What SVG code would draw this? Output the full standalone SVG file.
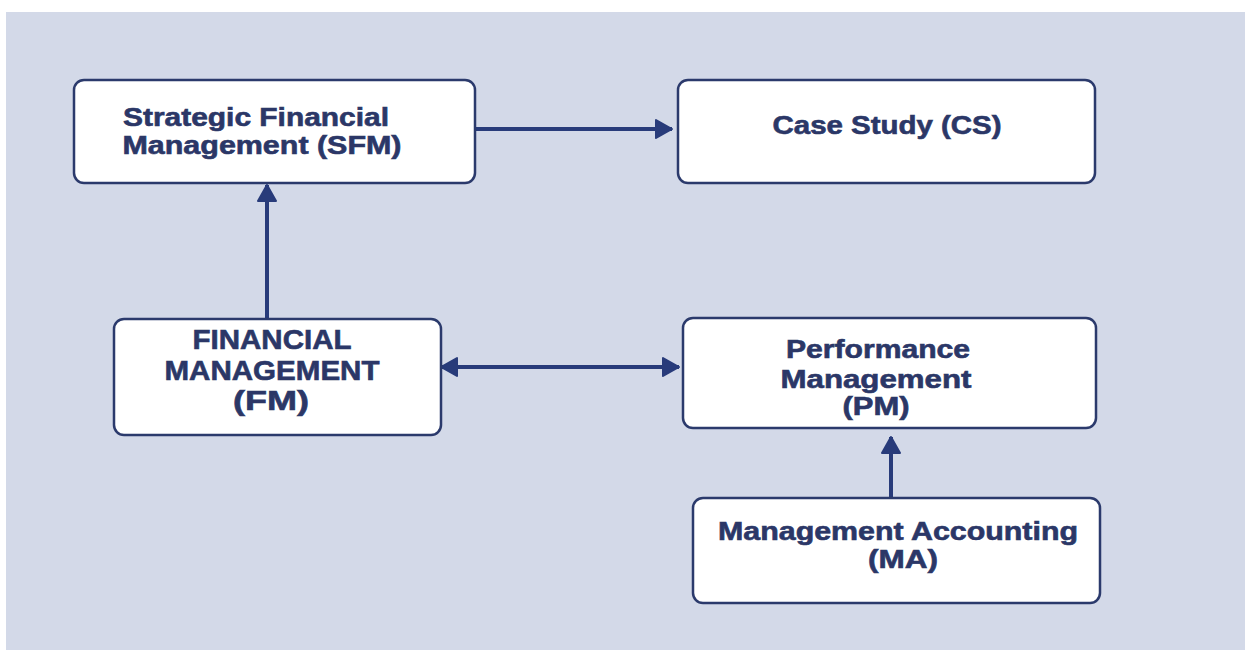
<svg xmlns="http://www.w3.org/2000/svg" width="1245" height="650" viewBox="0 0 1245 650">
  <style>
    .box { fill: #ffffff; stroke: #2b3a6c; stroke-width: 2.5; }
    .lbl { font-family: "Liberation Sans", Arial, sans-serif; font-weight: 700; fill: #2b3767; stroke: #2b3767; stroke-width: 0.6; text-anchor: middle; }
    .mc { font-size: 25px; }
    .uc { font-size: 27px; }
    .conn { stroke: #283b7a; stroke-width: 4; fill: none; }
  </style>
  <defs>
    <marker id="ah" viewBox="0 0 19 22" refX="18" refY="11" markerWidth="19" markerHeight="22" markerUnits="userSpaceOnUse" orient="auto-start-reverse">
      <path d="M2,2 L18,11 L2,20 Z" fill="#283b7a" stroke="#283b7a" stroke-width="2" stroke-linejoin="round"/>
    </marker>
  </defs>
  <rect x="6" y="12" width="1239" height="638" fill="#d3d9e8"/>

  <g id="connectors">
    <line class="conn" x1="476" y1="129" x2="672" y2="129" marker-end="url(#ah)"/>
    <line class="conn" x1="267" y1="319" x2="267" y2="185" marker-end="url(#ah)"/>
    <line class="conn" x1="441" y1="367" x2="679" y2="367" marker-start="url(#ah)" marker-end="url(#ah)"/>
    <line class="conn" x1="891" y1="497" x2="891" y2="437" marker-end="url(#ah)"/>
  </g>

  <g id="node-sfm">
    <rect class="box" x="74" y="80" width="401" height="103" rx="10"/>
    <text class="lbl mc" x="256" y="126" textLength="266" lengthAdjust="spacingAndGlyphs">Strategic Financial</text>
    <text class="lbl mc" x="262" y="154" textLength="279" lengthAdjust="spacingAndGlyphs">Management (SFM)</text>
  </g>
  <g id="node-cs">
    <rect class="box" x="678" y="80" width="417" height="103" rx="10"/>
    <text class="lbl mc" x="887" y="134" textLength="229" lengthAdjust="spacingAndGlyphs">Case Study (CS)</text>
  </g>
  <g id="node-fm">
    <rect class="box" x="114" y="319" width="327" height="116" rx="10"/>
    <text class="lbl uc" x="272" y="349" textLength="159" lengthAdjust="spacingAndGlyphs">FINANCIAL</text>
    <text class="lbl uc" x="272" y="380" textLength="215" lengthAdjust="spacingAndGlyphs">MANAGEMENT</text>
    <text class="lbl uc" x="271" y="410" textLength="76" lengthAdjust="spacingAndGlyphs">(FM)</text>
  </g>
  <g id="node-pm">
    <rect class="box" x="683" y="318" width="413" height="110" rx="10"/>
    <text class="lbl mc" x="878" y="358" textLength="184" lengthAdjust="spacingAndGlyphs">Performance</text>
    <text class="lbl mc" x="876" y="388" textLength="191" lengthAdjust="spacingAndGlyphs">Management</text>
    <text class="lbl mc" x="876" y="415" textLength="67" lengthAdjust="spacingAndGlyphs">(PM)</text>
  </g>
  <g id="node-ma">
    <rect class="box" x="693" y="498" width="407" height="105" rx="10"/>
    <text class="lbl mc" x="898" y="540" textLength="360" lengthAdjust="spacingAndGlyphs">Management Accounting</text>
    <text class="lbl mc" x="903" y="568" textLength="70" lengthAdjust="spacingAndGlyphs">(MA)</text>
  </g>
</svg>
